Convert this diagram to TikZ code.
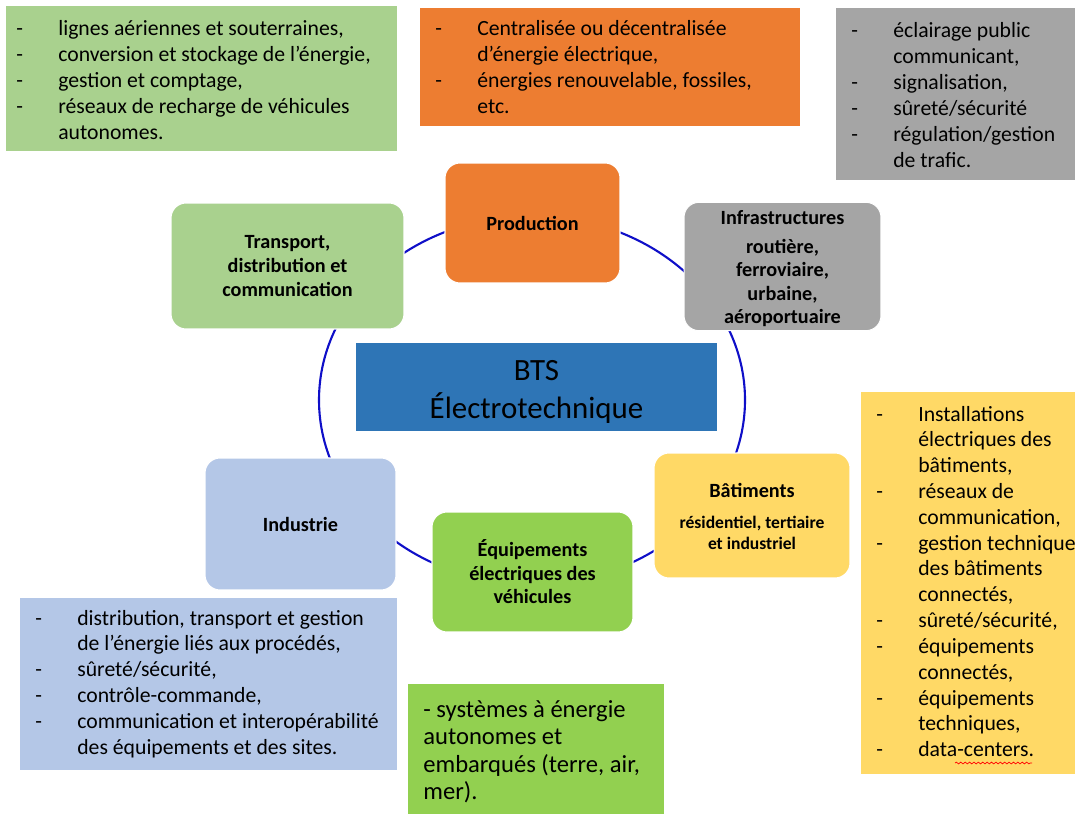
\documentclass[tikz,border=0pt]{standalone}
\usepackage{fontspec}
\setmainfont{Carlito}
\usetikzlibrary{decorations.pathmorphing}

\definecolor{vertclair}{HTML}{A9D18E}
\definecolor{orangeprod}{HTML}{ED7D31}
\definecolor{grisinfra}{HTML}{A5A5A5}
\definecolor{bleubts}{HTML}{2E75B6}
\definecolor{jaunebat}{HTML}{FFD966}
\definecolor{bleuind}{HTML}{B4C7E7}
\definecolor{vertveh}{HTML}{92D050}
\definecolor{anneau}{RGB}{15,15,200}

\newcommand{\puces}[1]{\begin{tabular}[t]{@{}p{0.84cm}@{}l@{}}#1\end{tabular}}

\tikzset{
  pole/.style={rectangle, rounded corners=0.3cm, draw=white, line width=0.6pt,
    align=center, inner sep=2pt, font=\fontsize{11.5}{13.4}\selectfont\bfseries},
  encadre/.style={rectangle, inner sep=0pt},
  liste/.style={anchor=base west, inner sep=0pt, font=\fontsize{12.35}{14.7}\selectfont},
  ring/.style={draw=anneau, line width=1.2pt}
}

\begin{document}
\begin{tikzpicture}[x=0.02cm, y=-0.02cm]
  \useasboundingbox (0,0) rectangle (1075,814);

  % ring behind the poles
  \coordinate (centre) at (532,400);
  \draw[ring] (centre) ellipse [x radius=213, y radius=184];

  % poles
  \node[pole, fill=vertclair, minimum width=4.66cm, minimum height=2.52cm] (trans) at (287.5,266)
    {Transport,\\distribution et\\communication};
  \node[pole, fill=orangeprod, minimum width=3.5cm, minimum height=2.4cm] (prod) at (532.5,223)
    {Production};
  \node[pole, fill=grisinfra, minimum width=3.94cm, minimum height=2.42cm] (infra) at (782.5,266.5)
    {\rule{0pt}{0.38cm}Infrastructures\\[0.1cm]routière,\\ferroviaire,\\urbaine,\\aéroportuaire};
  \node[pole, fill=jaunebat, minimum width=3.92cm, minimum height=2.5cm] (bat) at (752,515.5)
    {\rule{0pt}{0.45cm}Bâtiments\\[0.14cm]\fontsize{10}{11.9}\selectfont
     \begin{tabular}[t]{@{}c@{}}résidentiel, tertiaire\\et industriel\end{tabular}};
  \node[pole, fill=vertveh, minimum width=4.02cm, minimum height=2.4cm] (veh) at (532.5,572)
    {Équipements\\électriques des\\véhicules};
  \node[pole, fill=bleuind, minimum width=3.82cm, minimum height=2.64cm] (ind) at (300.5,524)
    {Industrie};

  % centre title
  \node[encadre, fill=bleubts, minimum width=7.22cm, minimum height=1.76cm] (bts) at (536.5,387) {};
  \node[align=center, inner sep=0pt, font=\fontsize{17.6}{21.5}\selectfont] (btstitre) at (536.5,392)
    {BTS\\Électrotechnique};

  % detail boxes
  \node[encadre, fill=vertclair, minimum width=7.82cm, minimum height=2.9cm] (transbox) at (201.5,78.5) {};
  \node[encadre, fill=orangeprod, minimum width=7.6cm, minimum height=2.36cm] (prodbox) at (610,67) {};
  \node[encadre, fill=grisinfra, minimum width=4.88cm, minimum height=3.44cm] (infrabox) at (958,94) {};
  \node[encadre, fill=jaunebat, minimum width=4.48cm, minimum height=7.64cm] (batbox) at (973,583) {};
  \node[encadre, fill=bleuind, minimum width=7.54cm, minimum height=3.44cm] (indbox) at (208.5,684) {};
  \node[encadre, fill=vertveh, minimum width=5.12cm, minimum height=2.76cm] (vehbox) at (536,753) {};

  % lists
  \node[liste] (transtxt) at (16,36) {\puces{
    - & lignes aériennes et souterraines,\\
    - & conversion et stockage de l’énergie,\\
    - & gestion et comptage,\\
    - & réseaux de recharge de véhicules\\
      & autonomes.}};
  \node[liste] (prodtxt) at (435,36) {\puces{
    - & Centralisée ou décentralisée\\
      & d’énergie électrique,\\
    - & énergies renouvelable, fossiles,\\
      & etc.}};
  \node[liste] (infratxt) at (851,38) {\puces{
    - & éclairage public\\
      & communicant,\\
    - & signalisation,\\
    - & sûreté/sécurité\\
    - & régulation/gestion\\
      & de trafic.}};
  \node[liste] (battxt) at (876,421) {\puces{
    - & Installations\\
      & électriques des\\
      & bâtiments,\\
    - & réseaux de\\
      & communication,\\
    - & gestion technique\\
      & des bâtiments\\
      & connectés,\\
    - & sûreté/sécurité,\\
    - & équipements\\
      & connectés,\\
    - & équipements\\
      & techniques,\\
    - & data-centers.}};
  \node[liste] (indtxt) at (35,625) {\puces{
    - & distribution, transport et gestion\\
      & de l’énergie liés aux procédés,\\
    - & sûreté/sécurité,\\
    - & contrôle-commande,\\
    - & communication et interopérabilité\\
      & des équipements et des sites.}};
  \node[liste, font=\fontsize{14}{15.7}\selectfont] (vehtxt) at (423,717)
    {\begin{tabular}[t]{@{}l@{}}- systèmes à énergie\\autonomes et\\embarqués (terre, air,\\mer).\end{tabular}};

  % spell-check mark
  \draw[red, decorate, decoration={snake, amplitude=0.5pt, segment length=2.5pt}]
    (955,763) -- (1032,763);
\end{tikzpicture}
\end{document}
